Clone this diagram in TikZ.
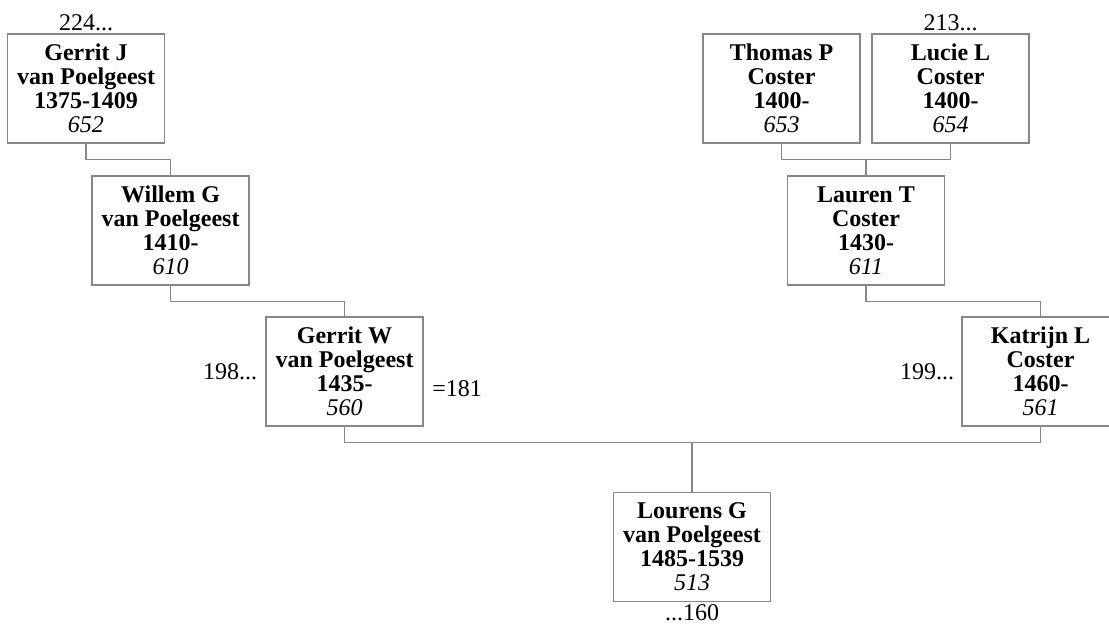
\documentclass[tikz,border=0pt]{standalone}
\usepackage{fontspec}
\setmainfont{Liberation Serif}
\usepackage{tikz}
\usetikzlibrary{positioning,calc}
\definecolor{lineGray}{RGB}{135,135,135}

\begin{document}
\begin{tikzpicture}[x=0.5pt,y=-0.5pt,
        pers/.style={rectangle,draw=lineGray,fill=white,line width=0.6pt,
                     minimum width=78.5pt,minimum height=54.5pt,inner sep=0pt,
                     align=center,font=\bfseries\fontsize{12}{12}\selectfont},
        nr/.style={inner sep=1pt,font=\fontsize{12}{12}\selectfont},
        ln/.style={draw=lineGray,line width=0.6pt}]

        \useasboundingbox (0,0) rectangle (1109,628);

        \node[pers] (gerritJ) at (86,88.5)    {Gerrit J\\van Poelgeest\\1375-1409\\{\mdseries\itshape 652}};
        \node[pers] (willem)  at (170.5,230.5) {Willem G\\van Poelgeest\\1410-\\{\mdseries\itshape 610}};
        \node[pers] (gerritW) at (344.5,371.5) {Gerrit W\\van Poelgeest\\1435-\\{\mdseries\itshape 560}};
        \node[pers] (thomas)  at (781.5,88.5)  {Thomas P\\Coster\\1400-\\{\mdseries\itshape 653}};
        \node[pers] (lucie)   at (950.5,88.5)  {Lucie L\\Coster\\1400-\\{\mdseries\itshape 654}};
        \node[pers] (lauren)  at (866,230.5)   {Lauren T\\Coster\\1430-\\{\mdseries\itshape 611}};
        \node[pers] (katrijn) at (1040.5,371.5) {Katrijn L\\Coster\\1460-\\{\mdseries\itshape 561}};
        \node[pers] (lourens) at (692,547)     {Lourens G\\van Poelgeest\\1485-1539\\{\mdseries\itshape 513}};

        % verwijzingen
        \node[nr,above=0pt of gerritJ] (refJ) {224...};
        \node[nr,above=0pt of lucie]   (refL) {213...};
        \node[nr,left=3pt of gerritW]  (refW) {198...};
        \node[nr,left=2.5pt of katrijn] (refK) {199...};
        \node[nr,anchor=west] (huw) at (430,389) {=181};
        \node[nr,below=0pt of lourens] (refG) {...160};

        % lijnen
        \coordinate (tlMid) at (866,159);
        \coordinate (gkMid) at (692,442);
        \draw[ln] (gerritJ.south) -- ++(0,16) -| (willem.north);
        \draw[ln] (willem.south)  -- ++(0,16) -| (gerritW.north);
        \draw[ln] (thomas.south)  -- ++(0,16) -| (lucie.south);
        \draw[ln] (lauren.north)  -- (tlMid);
        \draw[ln] (lauren.south)  -- ++(0,16) -| (katrijn.north);
        \draw[ln] (gerritW.south) -- ++(0,16) -| (katrijn.south);
        \draw[ln] (lourens.north) -- (gkMid);
\end{tikzpicture}
\end{document}
